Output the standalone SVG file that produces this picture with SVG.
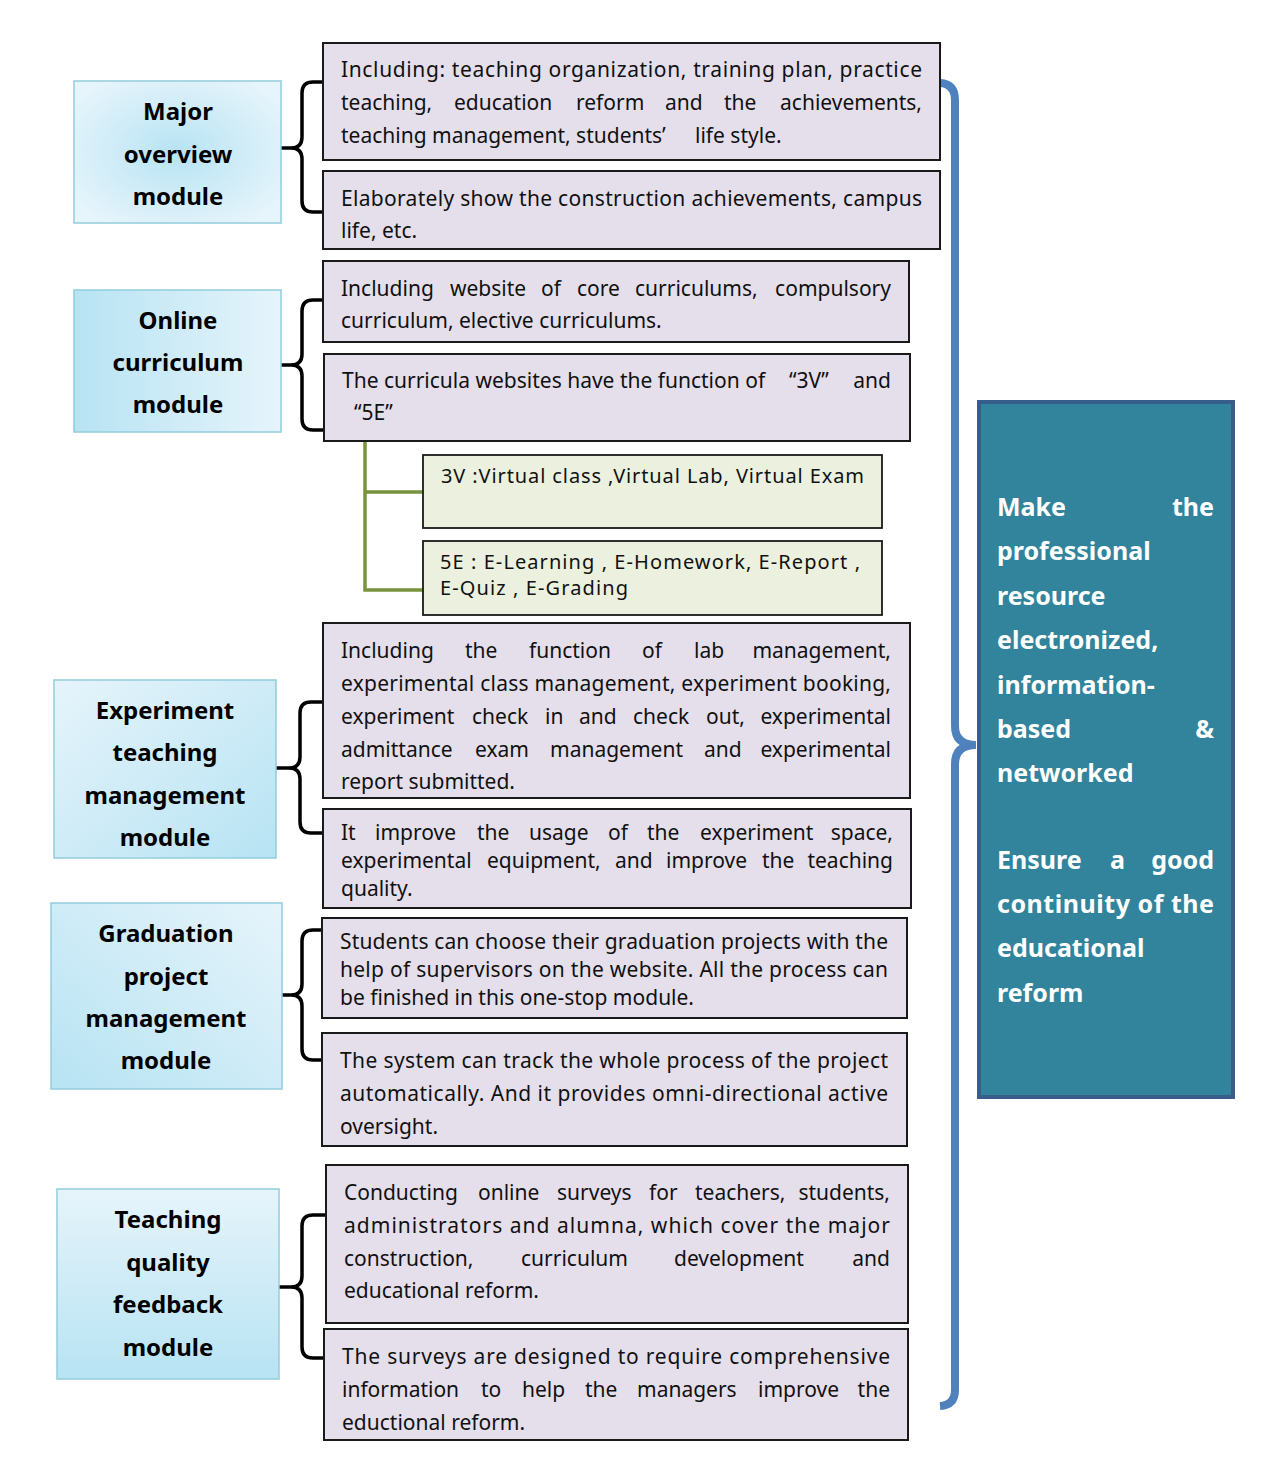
<svg xmlns="http://www.w3.org/2000/svg" width="1272" height="1469" viewBox="0 0 1272 1469">
<style>
.mod{stroke:#93cddd;stroke-width:1.5}
.mt{font-family:"Noto Sans","Open Sans",sans-serif;font-size:24px;font-weight:bold;fill:#000;text-anchor:middle}
.box{fill:#e5dfec;stroke:#1a1a1a;stroke-width:2}
.gbox{fill:#ebf1de;stroke:#1a1a1a;stroke-width:1.8}
.t{font-family:"Noto Sans","Open Sans",sans-serif;font-size:21px;fill:#111}
.s{font-size:20px}
.e{text-anchor:end}
.br{fill:none;stroke:#000;stroke-width:3.5;stroke-linejoin:round}
.gl{fill:none;stroke:#77933c;stroke-width:3.5}
.rt{font-family:"Noto Sans","Open Sans",sans-serif;font-size:25px;font-weight:bold;fill:#fff}
</style>
<defs>
<radialGradient id="g1" cx="0.5" cy="0.5" r="0.6"><stop offset="0" stop-color="#b7e3f3"/><stop offset="1" stop-color="#e6f4fb"/></radialGradient>
<linearGradient id="g2" x1="0" y1="0" x2="1" y2="0"><stop offset="0" stop-color="#b7e3f3"/><stop offset="1" stop-color="#e6f4fb"/></linearGradient>
<linearGradient id="g3" x1="0" y1="0" x2="1" y2="1"><stop offset="0" stop-color="#e6f4fb"/><stop offset="1" stop-color="#b7e3f3"/></linearGradient>
<linearGradient id="g4" x1="1" y1="0" x2="0" y2="1"><stop offset="0" stop-color="#e6f4fb"/><stop offset="1" stop-color="#b7e3f3"/></linearGradient>
<linearGradient id="g5" x1="0" y1="0" x2="0" y2="1"><stop offset="0" stop-color="#e6f4fb"/><stop offset="1" stop-color="#b7e3f3"/></linearGradient>
</defs>

<g id="connectors">
<path class="br" d="M323 82H313Q302 82 302 93V137Q302 148 291 148H281M291 148Q302 148 302 159V201Q302 212 313 212H323"/>
<path class="br" d="M324 300H313Q302 300 302 311V354Q302 365 291 365H281M291 365Q302 365 302 376V419Q302 430 313 430H324"/>
<path class="br" d="M323 702H311Q300 702 300 713V757Q300 768 289 768H276M289 768Q300 768 300 779V822Q300 833 311 833H323"/>
<path class="br" d="M322 930H313Q302 930 302 941V984Q302 995 291 995H282M291 995Q302 995 302 1006V1049Q302 1060 313 1060H322"/>
<path class="br" d="M326 1215H313Q302 1215 302 1226V1276Q302 1287 291 1287H279M291 1287Q302 1287 302 1298V1347Q302 1358 313 1358H324"/>
<path class="gl" d="M365 441V590H423M365 492H423"/>
<path fill="none" stroke="#4f81bd" stroke-width="8" d="M940 83Q955 84 955 100V726Q955 745 976 745M976 745Q955 745 955 764V1390Q955 1405 940 1406"/>
</g>

<g id="m1">
<rect class="mod" x="74" y="81" width="207" height="142" fill="url(#g1)"/>
<text class="mt" x="178" y="120">Major</text>
<text class="mt" x="178" y="163">overview</text>
<text class="mt" x="178" y="205">module</text>
</g>
<g id="m2">
<rect class="mod" x="74" y="290" width="207" height="142" fill="url(#g2)"/>
<text class="mt" x="178" y="329">Online</text>
<text class="mt" x="178" y="371">curriculum</text>
<text class="mt" x="178" y="413">module</text>
</g>
<g id="m3">
<rect class="mod" x="54" y="680" width="222" height="178" fill="url(#g3)"/>
<text class="mt" x="165" y="719">Experiment</text>
<text class="mt" x="165" y="761">teaching</text>
<text class="mt" x="165" y="804">management</text>
<text class="mt" x="165" y="846">module</text>
</g>
<g id="m4">
<rect class="mod" x="51" y="903" width="231" height="186" fill="url(#g4)"/>
<text class="mt" x="166" y="942">Graduation</text>
<text class="mt" x="166" y="985">project</text>
<text class="mt" x="166" y="1027">management</text>
<text class="mt" x="166" y="1069">module</text>
</g>
<g id="m5">
<rect class="mod" x="57" y="1189" width="222" height="190" fill="url(#g5)"/>
<text class="mt" x="168" y="1228">Teaching</text>
<text class="mt" x="168" y="1271">quality</text>
<text class="mt" x="168" y="1313">feedback</text>
<text class="mt" x="168" y="1356">module</text>
</g>

<g id="a1">
<rect class="box" x="323" y="43" width="617" height="117"/>
<text class="t" y="77" x="341" textLength="581" lengthAdjust="spacing">Including: teaching organization, training plan, practice</text>
<text class="t" y="110"><tspan x="341">teaching,</tspan><tspan x="454">education</tspan><tspan x="576">reform</tspan><tspan x="665">and</tspan><tspan x="724">the</tspan></text>
<text class="t e" y="110" x="922">achievements,</text>
<text class="t" y="143"><tspan x="341">teaching management, students’</tspan><tspan x="695">life style.</tspan></text>
</g>
<g id="a2">
<rect class="box" x="323" y="171" width="617" height="78"/>
<text class="t" y="206" x="341" textLength="581" lengthAdjust="spacing">Elaborately show the construction achievements, campus</text>
<text class="t" y="238" x="341">life, etc.</text>
</g>
<g id="b1">
<rect class="box" x="323" y="261" width="586" height="81"/>
<text class="t" y="296"><tspan x="341">Including</tspan><tspan x="450">website</tspan><tspan x="541">of</tspan><tspan x="577">core</tspan><tspan x="635">curriculums,</tspan></text>
<text class="t e" y="296" x="891">compulsory</text>
<text class="t" y="328" x="341">curriculum, elective curriculums.</text>
</g>
<g id="b2">
<rect class="box" x="324" y="354" width="586" height="87"/>
<text class="t" y="388"><tspan x="342">The curricula websites have the function of</tspan><tspan x="789">“3V”</tspan></text>
<text class="t e" y="388" x="891">and</text>
<text class="t" y="420" x="354">“5E”</text>
</g>
<g id="c1">
<rect class="gbox" x="423" y="455" width="459" height="73"/>
<text class="t s" y="483" x="441" textLength="423" lengthAdjust="spacing">3V :Virtual class ,Virtual Lab, Virtual Exam</text>
</g>
<g id="c2">
<rect class="gbox" x="423" y="541" width="459" height="74"/>
<text class="t s" y="569" x="440" textLength="420" lengthAdjust="spacing">5E : E-Learning , E-Homework, E-Report ,</text>
<text class="t s" y="595" x="440" textLength="188" lengthAdjust="spacing">E-Quiz , E-Grading</text>
</g>
<g id="d1">
<rect class="box" x="323" y="623" width="587" height="175"/>
<text class="t" y="658"><tspan x="341">Including</tspan><tspan x="465">the</tspan><tspan x="529">function</tspan><tspan x="642">of</tspan><tspan x="694">lab</tspan></text>
<text class="t e" y="658" x="891">management,</text>
<text class="t" y="691" x="341" textLength="550" lengthAdjust="spacing">experimental class management, experiment booking,</text>
<text class="t" y="724"><tspan x="341">experiment</tspan><tspan x="472">check</tspan><tspan x="545">in</tspan><tspan x="579">and</tspan><tspan x="633">check</tspan><tspan x="706">out,</tspan></text>
<text class="t e" y="724" x="891">experimental</text>
<text class="t" y="757"><tspan x="341">admittance</tspan><tspan x="475">exam</tspan><tspan x="550">management</tspan><tspan x="704">and</tspan></text>
<text class="t e" y="757" x="891">experimental</text>
<text class="t" y="789" x="341">report submitted.</text>
</g>
<g id="d2">
<rect class="box" x="323" y="809" width="588" height="99"/>
<text class="t" y="840"><tspan x="341">It</tspan><tspan x="375">improve</tspan><tspan x="477">the</tspan><tspan x="529">usage</tspan><tspan x="608">of</tspan><tspan x="647">the</tspan><tspan x="700">experiment</tspan></text>
<text class="t e" y="840" x="893">space,</text>
<text class="t" y="868"><tspan x="341">experimental</tspan><tspan x="487">equipment,</tspan><tspan x="615">and</tspan><tspan x="666">improve</tspan><tspan x="762">the</tspan></text>
<text class="t e" y="868" x="893">teaching</text>
<text class="t" y="896" x="341">quality.</text>
</g>
<g id="e1">
<rect class="box" x="322" y="918" width="585" height="100"/>
<text class="t" y="949" x="340" textLength="548" lengthAdjust="spacing">Students can choose their graduation projects with the</text>
<text class="t" y="977" x="340" textLength="548" lengthAdjust="spacing">help of supervisors on the website. All the process can</text>
<text class="t" y="1005" x="340">be finished in this one-stop module.</text>
</g>
<g id="e2">
<rect class="box" x="322" y="1033" width="585" height="113"/>
<text class="t" y="1068" x="340" textLength="548" lengthAdjust="spacing">The system can track the whole process of the project</text>
<text class="t" y="1101" x="340" textLength="548" lengthAdjust="spacing">automatically. And it provides omni-directional active</text>
<text class="t" y="1134" x="340">oversight.</text>
</g>
<g id="f1">
<rect class="box" x="326" y="1165" width="582" height="158"/>
<text class="t" y="1200"><tspan x="344">Conducting</tspan><tspan x="478">online</tspan><tspan x="557">surveys</tspan><tspan x="649">for</tspan><tspan x="695">teachers,</tspan></text>
<text class="t e" y="1200" x="890">students,</text>
<text class="t" y="1233" x="344" textLength="546" lengthAdjust="spacing">administrators and alumna, which cover the major</text>
<text class="t" y="1266"><tspan x="344">construction,</tspan><tspan x="521">curriculum</tspan><tspan x="674">development</tspan></text>
<text class="t e" y="1266" x="890">and</text>
<text class="t" y="1298" x="344">educational reform.</text>
</g>
<g id="f2">
<rect class="box" x="324" y="1329" width="584" height="111"/>
<text class="t" y="1364" x="342" textLength="548" lengthAdjust="spacing">The surveys are designed to require comprehensive</text>
<text class="t" y="1397"><tspan x="342">information</tspan><tspan x="481">to</tspan><tspan x="522">help</tspan><tspan x="585">the</tspan><tspan x="637">managers</tspan><tspan x="758">improve</tspan></text>
<text class="t e" y="1397" x="890">the</text>
<text class="t" y="1430" x="342">eductional reform.</text>
</g>

<g id="goal">
<rect x="979" y="402" width="254" height="695" fill="#31849b" stroke="#385d8a" stroke-width="4"/>
<text class="rt" y="516" x="997">Make</text>
<text class="rt" y="516" x="1214" text-anchor="end">the</text>
<text class="rt" y="560" x="997">professional</text>
<text class="rt" y="605" x="997">resource</text>
<text class="rt" y="649" x="997">electronized,</text>
<text class="rt" y="694" x="997">information-</text>
<text class="rt" y="738" x="997">based</text>
<text class="rt" y="738" x="1214" text-anchor="end">&amp;</text>
<text class="rt" y="782" x="997">networked</text>
<text class="rt" y="869"><tspan x="997">Ensure</tspan><tspan x="1110">a</tspan></text>
<text class="rt" y="869" x="1214" text-anchor="end">good</text>
<text class="rt" y="913" x="997" textLength="217" lengthAdjust="spacing">continuity of the</text>
<text class="rt" y="957" x="997">educational</text>
<text class="rt" y="1002" x="997">reform</text>
</g>
</svg>
